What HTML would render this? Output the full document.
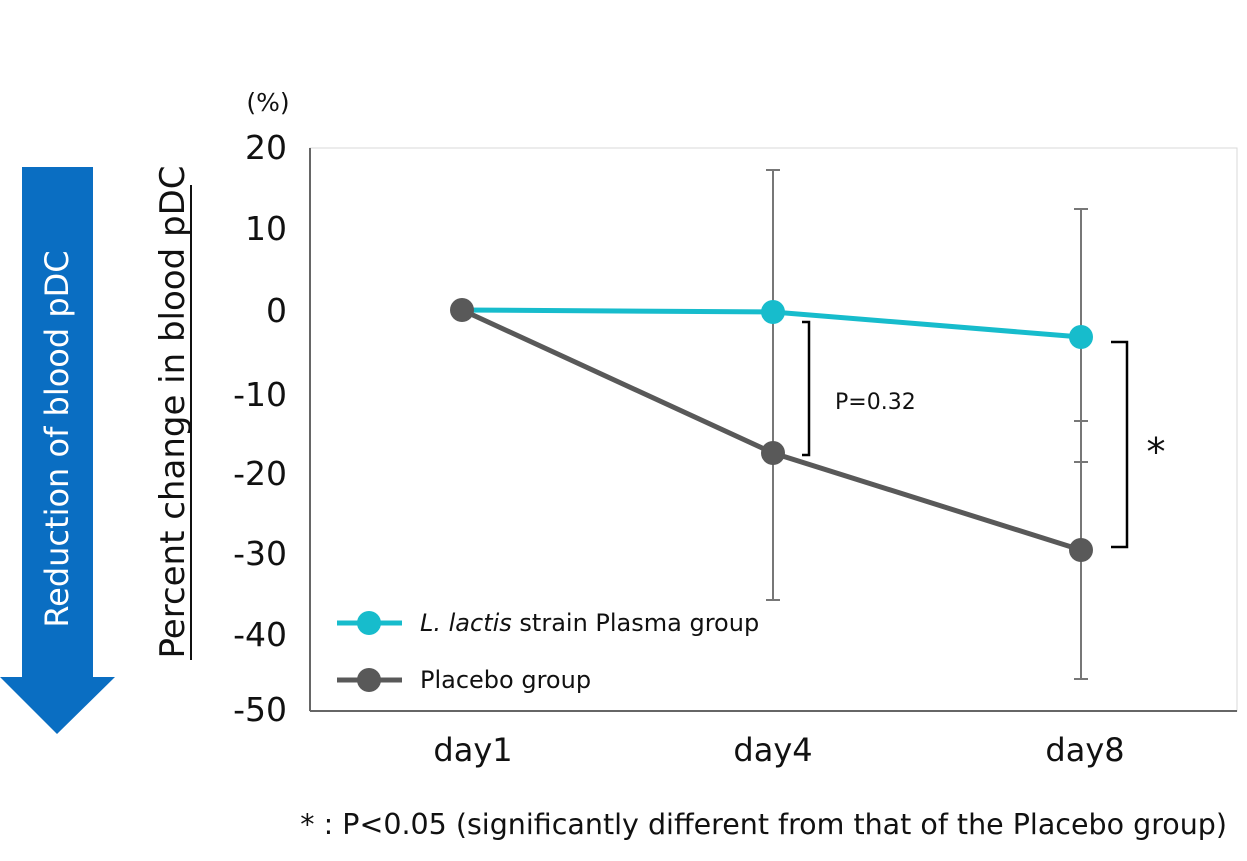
<!DOCTYPE html>
<html><head><meta charset="utf-8"><style>
body{margin:0;background:#fff;}
svg{display:block;font-family:"DejaVu Sans","Liberation Sans",sans-serif;}
</style></head><body>
<svg width="1247" height="861" viewBox="0 0 1247 861" xmlns="http://www.w3.org/2000/svg">
<rect width="1247" height="861" fill="#fff"/>
<!-- arrow -->
<polygon points="22,167 93,167 93,677 115,677 57,734 0,677 22,677" fill="#0A6EC2"/>
<text transform="translate(68,439) rotate(-90)" text-anchor="middle" font-size="32" fill="#fff">Reduction of blood pDC</text>
<!-- y title -->
<text transform="translate(184,412) rotate(-90)" text-anchor="middle" font-size="34" fill="#111">Percent change in blood pDC</text>
<line x1="191" y1="185" x2="191" y2="660" stroke="#111" stroke-width="2"/>
<text x="268" y="111" text-anchor="middle" font-size="25" fill="#111">(%)</text>
<!-- plot frame -->
<rect x="310" y="148" width="927" height="563" fill="none" stroke="#d9d9d9" stroke-width="1"/>
<line x1="310" y1="148" x2="310" y2="711" stroke="#666" stroke-width="2"/>
<line x1="310" y1="711" x2="1237" y2="711" stroke="#666" stroke-width="2"/>
<g font-size="33" fill="#111" text-anchor="end">
<text x="287" y="159">20</text>
<text x="287" y="240">10</text>
<text x="287" y="322">0</text>
<text x="287" y="406">-10</text>
<text x="287" y="485">-20</text>
<text x="287" y="565">-30</text>
<text x="287" y="646">-40</text>
<text x="287" y="721">-50</text>
</g>
<g font-size="32" fill="#111" text-anchor="middle">
<text x="473" y="761">day1</text>
<text x="773" y="761">day4</text>
<text x="1085" y="761">day8</text>
</g>
<!-- error bars -->
<g stroke="#777" stroke-width="2">
<line x1="773" y1="170" x2="773" y2="600"/><line x1="766" y1="170" x2="780" y2="170"/><line x1="766" y1="600" x2="780" y2="600"/>
<line x1="1081" y1="209" x2="1081" y2="679"/><line x1="1074" y1="209" x2="1088" y2="209"/><line x1="1074" y1="679" x2="1088" y2="679"/>
<line x1="1074" y1="421" x2="1088" y2="421"/><line x1="1074" y1="462" x2="1088" y2="462"/>
</g>
<!-- series -->
<polyline points="462,310 773,453 1081,550" fill="none" stroke="#595959" stroke-width="5"/>
<polyline points="462,310 773,312 1081,337" fill="none" stroke="#17BCCC" stroke-width="5"/>
<circle cx="462" cy="310" r="12" fill="#595959"/>
<circle cx="773" cy="453" r="12" fill="#595959"/>
<circle cx="1081" cy="550" r="12" fill="#595959"/>
<circle cx="773" cy="312" r="12" fill="#17BCCC"/>
<circle cx="1081" cy="337" r="12" fill="#17BCCC"/>
<!-- brackets -->
<polyline points="802,322 809,322 809,455 802,455" fill="none" stroke="#000" stroke-width="2.5"/>
<text x="835" y="409" font-size="22" fill="#111">P=0.32</text>
<polyline points="1111,342 1127,342 1127,547 1111,547" fill="none" stroke="#000" stroke-width="2.5"/>
<text x="1156" y="465" text-anchor="middle" font-size="38" fill="#111">*</text>
<!-- legend -->
<line x1="337" y1="623" x2="402" y2="623" stroke="#17BCCC" stroke-width="5"/>
<circle cx="369" cy="623" r="12" fill="#17BCCC"/>
<text x="420" y="631" font-size="24" fill="#111"><tspan font-style="italic">L. lactis</tspan> strain Plasma group</text>
<line x1="337" y1="680" x2="402" y2="680" stroke="#595959" stroke-width="5"/>
<circle cx="369" cy="680" r="12" fill="#595959"/>
<text x="420" y="688" font-size="24" fill="#111">Placebo group</text>
<text x="1227" y="834" text-anchor="end" font-size="28.5" fill="#111">* : P&lt;0.05 (significantly different from that of the Placebo group)</text>
</svg>
</body></html>
